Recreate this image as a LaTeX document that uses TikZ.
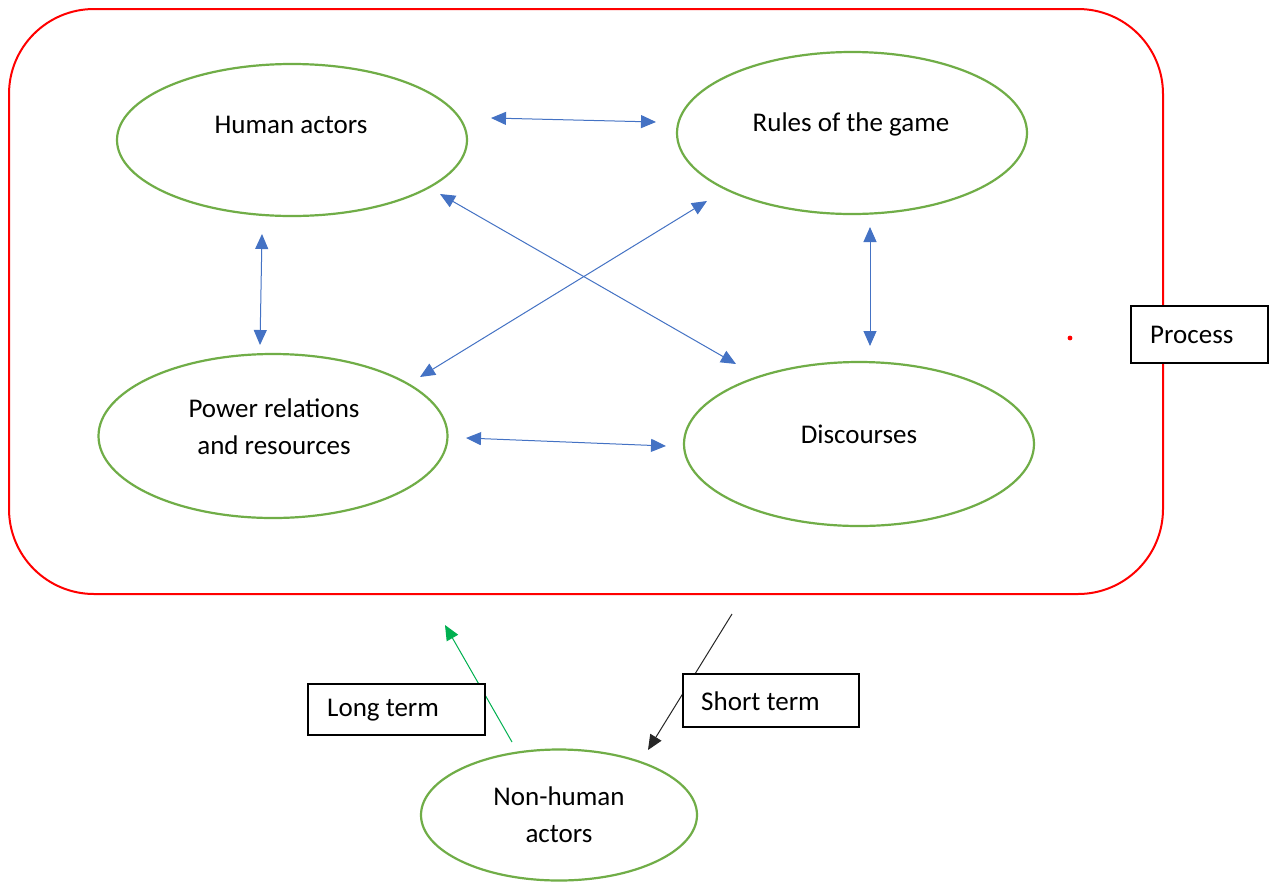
\documentclass[tikz,border=0pt]{standalone}
\usepackage{fontspec}
\setmainfont{Carlito}
\usetikzlibrary{shapes.geometric,arrows.meta}
\definecolor{egreen}{HTML}{70AD47}
\definecolor{ablue}{HTML}{4472C4}
\definecolor{lgreen}{HTML}{00B050}
\begin{document}
\begin{tikzpicture}[x=1pt,y=-1pt,
  every node/.style={font=\fontsize{27}{37}\selectfont},
  ell/.style={draw=egreen,line width=2.2pt,ellipse,inner sep=0pt},
  lbl/.style={align=center,inner sep=0pt},
  tbox/.style={draw=black,line width=2pt,fill=white,inner sep=0pt,anchor=north west},
  biarrow/.style={ablue,line width=1pt,{Triangle[length=15pt,width=13pt]}-{Triangle[length=15pt,width=13pt]}},
  onearrow/.style={line width=1pt,-{Triangle[length=15pt,width=13pt]}}]
\useasboundingbox (0,0) rectangle (1272,884);
\fill[white] (0,0) rectangle (1272,884);
% process frame
\draw[red,line width=2pt,rounded corners=85pt] (9,9) rectangle (1163,594);
\fill[red] (1070,338) circle (2.4pt);
% ellipses
\node[ell,minimum width=350pt,minimum height=152pt] (ha) at (292,140) {};
\node[ell,minimum width=350pt,minimum height=162pt] (rg) at (852,133) {};
\node[ell,minimum width=349pt,minimum height=164pt] (pr) at (273,436) {};
\node[ell,minimum width=350pt,minimum height=164pt] (di) at (859,444) {};
\node[ell,minimum width=276pt,minimum height=131pt] (nh) at (559,815) {};
\node[lbl] at (291,125) {Human actors};
\node[lbl] at (851,124) {Rules of the game};
\node[lbl] at (274,427) {Power relations\\and resources};
\node[lbl] at (859,434) {Discourses};
\node[lbl] at (559,815) {Non-human\\actors};
% arrow endpoints
\coordinate (a1) at (491,118); \coordinate (a2) at (656,122);
\coordinate (b1) at (262,234); \coordinate (b2) at (260,345);
\coordinate (c1) at (870,227); \coordinate (c2) at (870,346);
\coordinate (d1) at (420,377); \coordinate (d2) at (707,201);
\coordinate (e1) at (440,194); \coordinate (e2) at (736,364);
\coordinate (f1) at (466,438); \coordinate (f2) at (666,446);
\coordinate (g1) at (512,742); \coordinate (g2) at (445,625);
\coordinate (h1) at (732,614); \coordinate (h2) at (648,750);
\draw[biarrow] (a1) -- (a2);
\draw[biarrow] (b1) -- (b2);
\draw[biarrow] (c1) -- (c2);
\draw[biarrow] (d1) -- (d2);
\draw[biarrow] (e1) -- (e2);
\draw[biarrow] (f1) -- (f2);
\draw[onearrow,lgreen] (g1) -- (g2);
\draw[onearrow,black!85] (h1) -- (h2);
% boxes
\node[tbox,minimum width=137pt,minimum height=57pt] (proc) at (1130,305) {};
\node[anchor=west,inner sep=0pt] at ([xshift=20pt]proc.west) {Process};
\node[tbox,minimum width=177pt,minimum height=51pt] (lt) at (307,683) {};
\node[anchor=west,inner sep=0pt] at ([xshift=20pt,yshift=-1pt]lt.west) {Long term};
\node[tbox,minimum width=176pt,minimum height=53pt] (st) at (682,673) {};
\node[anchor=west,inner sep=0pt] at ([xshift=19pt,yshift=-1pt]st.west) {Short term};
\end{tikzpicture}
\end{document}
